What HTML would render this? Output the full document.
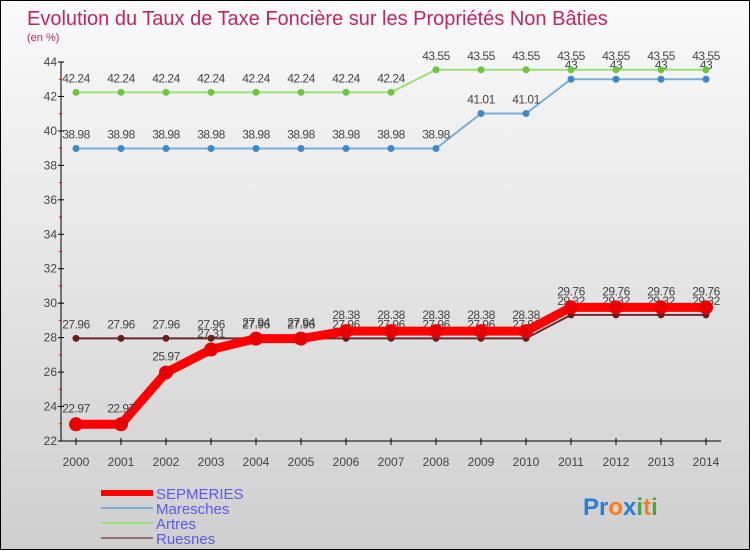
<!DOCTYPE html>
<html><head><meta charset="utf-8"><style>
body{margin:0;width:750px;height:550px;overflow:hidden;font-family:"Liberation Sans",sans-serif}
#wrap{position:relative;width:748px;height:548px;border:1px solid #000;background:linear-gradient(#fafafa,#cfcfcf)}
svg{position:absolute;left:0;top:0}
</style></head><body>
<div id="wrap">
<svg id="c" width="750" height="550">
<text x="26" y="24" font-size="20" fill="#c0285a">Evolution du Taux de Taxe Foncière sur les Propriétés Non Bâties</text>
<text x="26" y="40" font-size="11" fill="#c0285a">(en %)</text>
</svg>
</div>
<script>
const years=[2000,2001,2002,2003,2004,2005,2006,2007,2008,2009,2010,2011,2012,2013,2014];
const yTicks=[22,24,26,28,30,32,34,36,38,40,42,44];
const sepmeries=[22.97,22.97,25.97,27.31,27.94,27.94,28.38,28.38,28.38,28.38,28.38,29.76,29.76,29.76,29.76];
const maresches=[38.98,38.98,38.98,38.98,38.98,38.98,38.98,38.98,38.98,41.01,41.01,43,43,43,43];
const artres=[42.24,42.24,42.24,42.24,42.24,42.24,42.24,42.24,43.55,43.55,43.55,43.55,43.55,43.55,43.55];
const ruesnes=[27.96,27.96,27.96,27.96,27.96,27.96,27.96,27.96,27.96,27.96,27.96,29.32,29.32,29.32,29.32];
const NS="http://www.w3.org/2000/svg",svg=document.getElementById('c');
const X=i=>75+i*45, Y=v=>440-(v-22)*(379/22);
function el(t,a,p){const e=document.createElementNS(NS,t);for(const k in a)e.setAttribute(k,a[k]);(p||svg).appendChild(e);return e;}
// axes
let ax=el('g',{});


el('line',{x1:60,y1:61,x2:60,y2:440,stroke:'#000'},ax);
el('line',{x1:60,y1:440,x2:720,y2:440,stroke:'#000'},ax);
yTicks.forEach((t,i)=>{
 el('line',{x1:57,y1:Y(t),x2:63,y2:Y(t),stroke:'#000'},ax);
 if(i<yTicks.length-1) el('line',{x1:58,y1:Y(t+1),x2:61,y2:Y(t+1),stroke:'#f00'},ax);
 const tx=el('text',{x:56,y:Y(t)+4,'font-size':12,'text-anchor':'end',fill:'#444'},ax);tx.textContent=t;
 
 
});
years.forEach((y,i)=>{
 el('line',{x1:X(i),y1:437,x2:X(i),y2:444,stroke:'#000'},ax);
 const tx=el('text',{x:X(i),y:465,'font-size':12,'text-anchor':'middle',fill:'#444'},ax);tx.textContent=y;
 
 
});
function series(name,vals,color,w,r,dot,labOff){
 const g=el('g',{});
 
 
 el('polyline',{points:vals.map((v,i)=>X(i)+','+Y(v)).join(' '),fill:'none',stroke:color,'stroke-width':w},g);
 vals.forEach((v,i)=>{
  const c=el('circle',{cx:X(i),cy:Y(v),r:r,fill:dot},g);
  
  
  const t=el('text',{x:X(i),y:Y(v)-labOff,'font-size':12,'text-anchor':'middle',fill:'#444','letter-spacing':'-0.5'},g);
  t.textContent=v;
  
  
 });
}
series('maresches',maresches,'#7aaed6',2,3.5,'#3d89c9',10);
series('artres',artres,'#9be07a',2,3.5,'#6cc63f',10);
series('ruesnes',ruesnes,'#6b2a2a',2,3.5,'#6b1c1c',10);
series('sepmeries',sepmeries,'#f00',9,7,'#e80000',12);
// legend
const leg=[['SEPMERIES','#f00',6],['Maresches','#7aaed6',2],['Artres','#9be07a',2],['Ruesnes','#9a6e6e',2]];
leg.forEach((l,i)=>{
 const y=492+i*15;
 const g=el('g',{});
 
 
 el('line',{x1:100,y1:y,x2:152,y2:y,stroke:l[1],'stroke-width':l[2]},g);
 const t=el('text',{x:155,y:y+6,'font-size':15,fill:'#5a5aef'},g);t.textContent=l[0];
});
const lg=el('text',{x:582,y:514,'font-size':24,'font-weight':'bold'});


[['P','#2a7fd4'],['r','#2a7fd4'],['o','#f08020'],['x','#2a7fd4'],['i','#4aa83a'],['t','#f08020'],['i','#4aa83a']].forEach(p=>{const s=el('tspan',{fill:p[1]},lg);s.textContent=p[0];});
</script>
</body></html>
